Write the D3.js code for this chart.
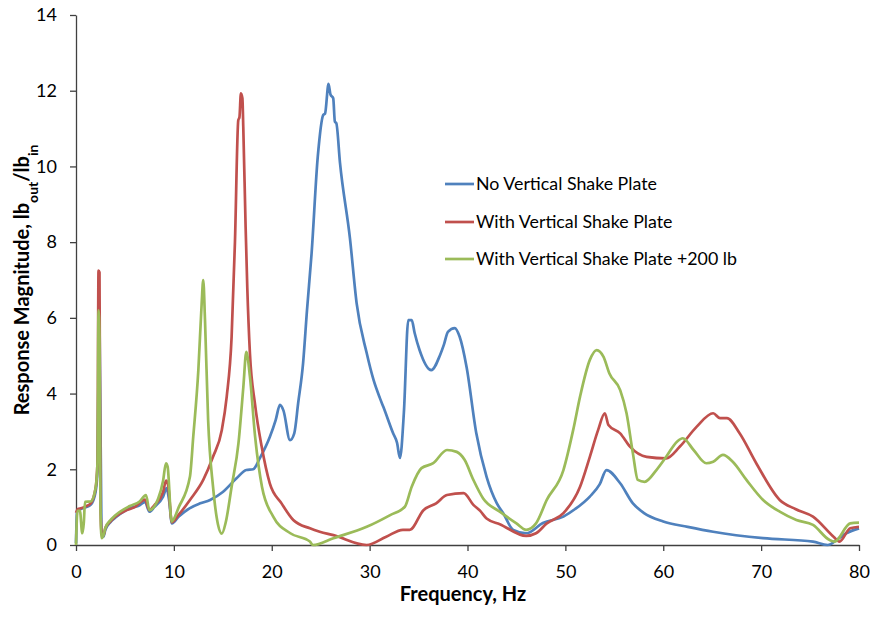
<!DOCTYPE html>
<html>
<head>
<meta charset="utf-8">
<script src="https://cdn.jsdelivr.net/npm/d3@7"></script>
<style>
  body { margin: 0; background: #fff; }
  text { font-family: Lato, "Liberation Sans", sans-serif; fill: #000; }
</style>
</head>
<body>
<script>
// response curves, [frequency Hz, magnitude]
var noPlate = [[0,0.05],[0.1,0.9],[0.5,0.95],[1.0,1.0],[1.5,1.06],[2.0,1.4],[2.2,2.0],[2.3,4.5],[2.4,6.0],[2.6,0.4],[2.8,0.22],[3.0,0.4],[3.5,0.6],[4.0,0.72],[5.0,0.9],[5.5,0.97],[6.5,1.05],[7.05,1.14],[7.5,0.88],[8.0,1.0],[8.9,1.28],[9.26,1.5],[9.5,1.2],[9.8,0.57],[10.5,0.75],[11.6,0.97],[12.7,1.1],[13.7,1.19],[15.0,1.4],[16.4,1.76],[17.4,1.98],[18.1,2.0],[18.8,2.3],[19.8,2.85],[20.4,3.3],[20.84,3.7],[21.2,3.55],[21.86,2.77],[22.3,2.95],[22.7,3.75],[23.2,4.8],[23.6,6.2],[24.07,7.7],[24.7,10.25],[25.26,11.36],[25.45,11.4],[25.8,12.18],[26.0,11.9],[26.28,11.8],[26.45,11.18],[26.6,11.14],[26.97,10.1],[27.99,8.1],[28.67,6.39],[29.7,5.07],[30.4,4.36],[31.05,3.88],[31.4,3.65],[32.4,2.95],[32.8,2.7],[33.1,2.3],[33.5,3.5],[33.95,5.94],[34.3,5.94],[34.6,5.6],[35.1,5.15],[36.3,4.62],[37.2,5.02],[37.6,5.3],[38.0,5.63],[38.7,5.73],[39.2,5.5],[39.9,4.71],[40.9,2.95],[41.95,1.8],[43.0,1.1],[43.65,0.84],[44.67,0.4],[46.0,0.31],[47.7,0.58],[49.8,0.75],[51.0,0.95],[52.5,1.28],[53.5,1.6],[54.2,1.98],[55.6,1.63],[56.9,1.1],[58.0,0.85],[60.0,0.62],[62.5,0.48],[65.1,0.35],[70.2,0.18],[75.3,0.09],[76.8,0.0],[77.8,0.15],[78.7,0.31],[80,0.44]];

var withPlate = [[0,0.85],[0.2,0.95],[0.5,0.97],[1.0,1.02],[1.5,1.1],[2.0,1.5],[2.2,2.2],[2.3,7.25],[2.4,7.2],[2.5,1.0],[2.65,0.25],[2.8,0.25],[3.0,0.45],[3.5,0.62],[4.0,0.75],[5.0,0.9],[6.0,1.0],[7.05,1.2],[7.5,0.92],[8.0,1.05],[8.9,1.4],[9.2,1.7],[9.4,1.6],[9.8,0.6],[10.5,0.8],[11.64,1.19],[13.0,1.72],[14.0,2.33],[14.9,3.04],[15.4,3.92],[15.9,5.5],[16.24,8.0],[16.58,11.22],[16.7,11.3],[16.85,11.93],[17.0,11.8],[17.09,11.05],[17.33,8.4],[17.5,6.8],[17.77,5.06],[18.28,3.74],[18.97,2.6],[19.8,1.63],[21.0,1.1],[22.2,0.66],[23.9,0.44],[24.9,0.35],[26.3,0.26],[29.7,0.0],[31.7,0.22],[33.4,0.4],[34.1,0.4],[35.5,0.92],[36.8,1.1],[37.9,1.32],[39.6,1.37],[40.6,1.06],[41.3,0.9],[41.95,0.7],[43.3,0.55],[46.0,0.24],[47.0,0.31],[48.1,0.57],[49.8,0.84],[51.5,1.54],[52.5,2.33],[53.35,3.04],[54.03,3.48],[54.4,3.17],[55.6,2.95],[56.6,2.6],[58.3,2.33],[60.3,2.29],[61.7,2.6],[63.4,3.12],[65.1,3.48],[65.8,3.35],[66.5,3.35],[67.8,2.95],[69.5,2.16],[71.9,1.19],[73.5,0.95],[75.3,0.75],[77.4,0.22],[78.0,0.09],[79.1,0.44],[80,0.48]];

var plus200 = [[0,0.0],[0.15,0.9],[0.4,0.9],[0.64,0.31],[0.8,0.6],[0.92,1.14],[1.5,1.15],[2.0,1.5],[2.2,2.2],[2.3,6.2],[2.4,5.5],[2.5,1.0],[2.62,0.18],[2.8,0.25],[3.0,0.45],[3.5,0.65],[4.0,0.78],[5.5,1.03],[6.5,1.15],[7.15,1.32],[7.5,0.92],[8.4,1.23],[8.9,1.7],[9.19,2.16],[9.36,2.07],[9.77,0.62],[10.5,1.0],[11.64,1.8],[11.98,2.86],[12.5,4.62],[12.84,6.38],[13.0,7.0],[13.18,5.94],[13.5,3.3],[14.0,1.54],[14.5,0.55],[14.9,0.3],[15.3,0.6],[15.9,1.54],[16.6,2.69],[17.1,4.18],[17.4,5.1],[17.77,4.45],[18.3,2.86],[19.0,1.54],[20.15,0.75],[21.9,0.31],[23.9,0.09],[24.2,0.0],[26.3,0.18],[29.7,0.48],[32.1,0.79],[33.6,1.01],[34.3,1.54],[35.3,2.03],[36.5,2.16],[37.9,2.51],[38.9,2.46],[39.7,2.25],[40.6,1.72],[41.6,1.23],[43.3,0.88],[45.0,0.57],[46.0,0.4],[47.0,0.57],[48.1,1.19],[49.8,1.98],[50.8,3.04],[51.5,3.92],[52.5,4.89],[53.2,5.15],[53.9,4.97],[54.5,4.53],[55.6,4.09],[56.25,3.48],[56.9,2.42],[57.4,1.72],[58.1,1.67],[59.3,1.98],[60.3,2.33],[61.4,2.73],[62.0,2.82],[63.1,2.51],[64.4,2.16],[65.1,2.2],[66.1,2.38],[67.1,2.2],[68.5,1.72],[70.2,1.19],[71.9,0.88],[73.6,0.66],[75.3,0.53],[77.0,0.13],[77.5,0.09],[79.1,0.57],[80,0.59]];

var seriesNames = ["No Vertical Shake Plate", "With Vertical Shake Plate", "With Vertical Shake Plate +200 lb"];
var seriesColors = ["#4F81BD", "#C0504D", "#9BBB59"];
var xTicks = [0, 10, 20, 30, 40, 50, 60, 70, 80];
var yTicks = [0, 2, 4, 6, 8, 10, 12, 14];

var W = 870, H = 624;
var svg = d3.select("body").append("svg").attr("width", W).attr("height", H);

var x = d3.scaleLinear().domain([0, 80]).range([76, 859]);
var y = d3.scaleLinear().domain([0, 14]).range([545, 15]);

var line = d3.line()
  .x(function (d) { return x(d[0]); })
  .y(function (d) { return y(d[1]); })
  .curve(d3.curveMonotoneX);

// axes
var xAxis = svg.append("g").attr("transform", "translate(0,545)")
  .call(d3.axisBottom(x).tickValues(xTicks).tickSize(6).tickSizeOuter(0).tickPadding(14));
var yAxis = svg.append("g").attr("transform", "translate(76,0)")
  .call(d3.axisLeft(y).tickValues(yTicks).tickSize(6).tickSizeOuter(0).tickPadding(13));

[xAxis, yAxis].forEach(function (g) {
  g.select(".domain").attr("stroke", "#404040").attr("stroke-width", 1.3);
  g.selectAll(".tick line").attr("stroke", "#404040").attr("stroke-width", 1.3);
  g.selectAll(".tick text").attr("font-family", "Lato, 'Liberation Sans', sans-serif")
    .attr("font-size", 18).attr("fill", "#000");
});

// lines, green drawn last so it sits on top like the original
var allSeries = [noPlate, withPlate, plus200];
svg.append("g").selectAll("path")
  .data(allSeries)
  .enter()
  .append("path")
  .attr("d", line)
  .attr("fill", "none")
  .attr("stroke", function (d, i) { return seriesColors[i]; })
  .attr("stroke-width", 2.7)
  .attr("stroke-linejoin", "round");

// legend
var legendY = [184, 222, 259];
var leg = svg.append("g").selectAll("g")
  .data(seriesNames)
  .enter()
  .append("g")
  .attr("transform", function (d, i) { return "translate(445," + legendY[i] + ")"; });
leg.append("line").attr("x1", 0).attr("x2", 29).attr("y1", 0).attr("y2", 0)
  .attr("stroke", function (d, i) { return seriesColors[i]; }).attr("stroke-width", 2.7);
leg.append("text").attr("x", 31).attr("y", 6).attr("font-size", 17.8)
  .text(function (d) { return d; });

// axis titles
svg.append("text").attr("x", 463).attr("y", 601).attr("text-anchor", "middle")
  .attr("font-size", 20).attr("font-weight", "bold").text("Frequency, Hz");

var yt = svg.append("text").attr("transform", "translate(29,280) rotate(-90)")
  .attr("text-anchor", "middle").attr("font-size", 20).attr("font-weight", "bold");
yt.append("tspan").text("Response Magnitude, lb");
yt.append("tspan").attr("baseline-shift", "sub").attr("font-size", 14).text("out");
yt.append("tspan").text("/lb");
yt.append("tspan").attr("baseline-shift", "sub").attr("font-size", 14).text("in");
</script>
</body>
</html>
